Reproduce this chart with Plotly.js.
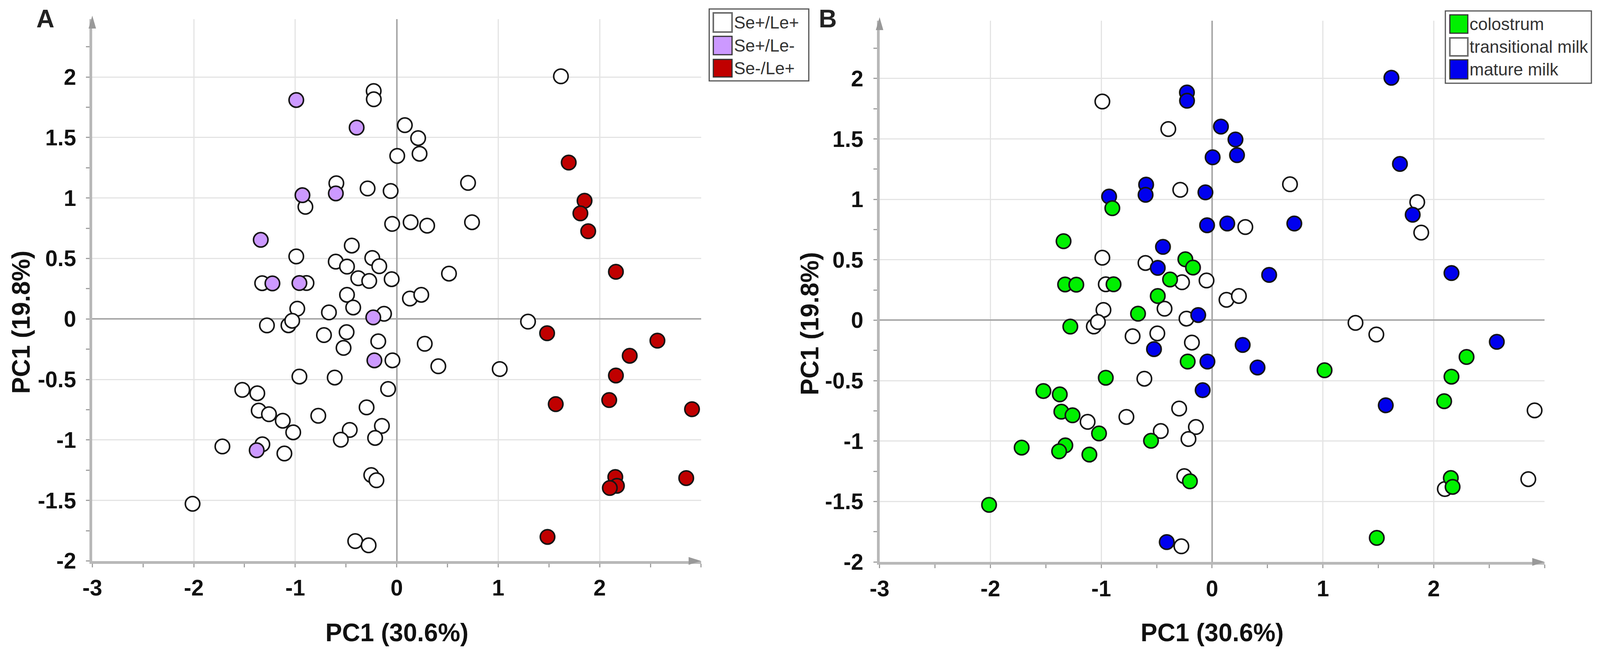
<!DOCTYPE html>
<html>
<head>
<meta charset="utf-8">
<script src="https://cdn.plot.ly/plotly-3.0.1.min.js"></script>
<style>html,body{margin:0;padding:0;background:#fff;overflow:hidden;}</style>
</head>
<body>
<div id="chart"></div>
<script>
// ---------------- DATA ----------------
// PCA scores, shared by both panels
const pc1 = [
  -0.99, -0.227, -0.226, -0.395, 0.005, -0.595, -0.60, -0.287, -0.06, -0.929,
  -0.90, -0.045, -1.34, -0.443, -0.99, -0.601, -0.49, -0.241, -0.172, -0.379,
  -0.271, -0.05, -1.326, -1.225, -0.959, -0.889, -0.49, 1.618, 0.08, 0.211,
  0.225, 1.695, 0.703, 1.851, 1.81, 1.887, 0.137, 0.30, 0.742, 2.16,
  0.515, 0.13, 0.242, -0.429, -0.98, -0.668, -0.231, -0.125, -1.279, -1.067,
  -1.03, -0.717, -0.494, -0.524, -0.182, -0.22, -0.042, -0.959, -0.611, -0.085,
  -1.522, -1.374, -0.297, -1.36, -1.259, -0.773, -1.123, -1.02, -0.146, -0.463,
  -0.551, -0.213, -1.718, -1.324, -1.38, -1.107, -0.251, -0.20, -2.012, -0.409,
  -0.277, 1.294, 1.482, 2.569, 2.296, 0.276, 0.41, 1.015, 2.16, 1.567,
  2.094, 2.91, 2.154, 2.17, 2.10, 2.853, 1.486
];
const pc2 = [
  1.81, 1.884, 1.816, 1.582, 1.348, 1.122, 1.038, 1.079, 1.058, 1.023,
  0.927, 0.786, 0.654, 0.607, 0.517, 0.474, 0.433, 0.504, 0.436, 0.337,
  0.314, 0.329, 0.296, 0.294, 0.297, 0.297, 0.20, 2.006, 1.602, 1.495,
  1.366, 1.293, 1.125, 0.977, 0.873, 0.725, 0.80, 0.771, 0.80, 0.39,
  0.375, 0.169, 0.20, 0.095, 0.085, 0.054, 0.013, 0.043, -0.053, -0.052,
  -0.015, -0.133, -0.109, -0.239, -0.185, -0.342, -0.342, -0.476, -0.484, -0.579,
  -0.586, -0.614, -0.731, -0.757, -0.787, -0.80, -0.841, -0.937, -0.884, -0.917,
  -0.998, -0.983, -1.054, -1.036, -1.085, -1.112, -1.29, -1.333, -1.528, -1.836,
  -1.871, -0.022, -0.118, -0.179, -0.304, -0.205, -0.391, -0.414, -0.467, -0.704,
  -0.67, -0.746, -1.306, -1.379, -1.397, -1.315, -1.801
];
// Panel A groups (index into categoriesA)
const categoriesA = ['Se+/Le+', 'Se+/Le-', 'Se-/Le+'];
const groupA = [
  1,0,0,1,0,0,1,0,0,1,
  0,0,1,0,0,0,0,0,0,0,
  0,0,0,1,1,0,0,0,0,0,
  0,2,0,2,2,2,0,0,0,2,
  0,0,0,0,0,0,1,0,0,0,
  0,0,0,0,0,1,0,0,0,0,
  0,0,0,0,0,0,0,0,0,0,
  0,0,0,0,1,0,0,0,0,0,
  0,0,2,2,2,0,0,0,2,2,
  2,2,2,2,2,2,2
];
// Panel B groups (index into categoriesB)
const categoriesB = ['colostrum', 'transitional milk', 'mature milk'];
const groupB = [
  1,2,2,1,2,2,2,1,2,2,
  0,2,0,2,1,1,2,0,0,0,
  1,1,0,0,1,0,0,2,2,2,
  2,2,1,1,2,1,2,1,2,2,
  2,1,1,1,1,0,1,2,0,1,
  1,1,1,2,1,0,2,0,1,2,
  0,0,1,0,0,1,1,0,1,1,
  0,1,0,0,0,0,1,0,0,2,
  1,1,1,2,0,2,2,0,0,2,
  0,1,0,0,1,1,0
];
// Tick labels and titles
const xTickVals = [-3, -2, -1, 0, 1, 2];
const xTickText = ['-3', '-2', '-1', '0', '1', '2'];
const yTickVals = [2, 1.5, 1, 0.5, 0, -0.5, -1, -1.5, -2];
const yTickText = ['2', '1.5', '1', '0.5', '0', '-0.5', '-1', '-1.5', '-2'];
const xTitle = 'PC1 (30.6%)';
const yTitle = 'PC1 (19.8%)';
const panelLabels = ['A', 'B'];

// ---------------- STYLE / LAYOUT ----------------
const colorsA = ['#ffffff', '#cc99ff', '#c00000'];
const colorsB = ['#00f000', '#ffffff', '#0000ee'];
const drawOrderA = [0, 1, 2];
const drawOrderB = [1, 2, 0];
const FONT = 'Liberation Sans, Arial, sans-serif';

// reference frame (positions below are measured in it), scaled to the real viewport
const REF_W = 4273, REF_H = 1666;
const W = Math.min(REF_W, window.innerWidth || REF_W);
const H = REF_H;
const sx = W / REF_W;
const px = x => x / REF_W;
const py = y => 1 - y / REF_H;
document.getElementById('chart').style.width = W + 'px';
document.getElementById('chart').style.height = H + 'px';

const domA = {x: [px(246.5), px(1872.5)], y: [py(1435.5), py(48.5)]};
const domB = {x: [px(2349), px(4125)], y: [py(1438), py(52.5)]};

function makeTraces(groups, cats, colors, order, xa, ya) {
  return order.map(ci => {
    const xs = [], ys = [];
    groups.forEach((g, i) => { if (g === ci) { xs.push(pc1[i]); ys.push(pc2[i]); } });
    return {
      type: 'scatter', mode: 'markers', name: cats[ci], x: xs, y: ys,
      xaxis: xa, yaxis: ya, showlegend: false, hoverinfo: 'skip', cliponaxis: false,
      marker: {symbol: 'circle', size: 37, color: colors[ci], line: {color: '#151515', width: 4}}
    };
  });
}

const traces = [].concat(
  makeTraces(groupA, categoriesA, colorsA, drawOrderA, 'x', 'y'),
  makeTraces(groupB, categoriesB, colorsB, drawOrderB, 'x2', 'y2')
);

const tickFont = {family: FONT, size: 57, color: '#111', weight: 'bold'};
const titleFont = {family: FONT, size: 64, color: '#111', weight: 'bold'};

function xAxis(dom, anchor) {
  return {
    domain: dom, anchor: anchor, range: [-3, 3], fixedrange: true,
    tickmode: 'array', tickvals: xTickVals, ticktext: xTickText,
    showgrid: true, gridcolor: '#e4e4e4', gridwidth: 3,
    zeroline: true, zerolinecolor: '#a8a8a8', zerolinewidth: 4,
    showline: true, linecolor: '#b8b8b8', linewidth: 7,
    ticks: 'outside', ticklen: 9, tickwidth: 3, tickcolor: '#a0a0a0',
    minor: {tick0: 0, dtick: 0.5, ticks: 'outside', ticklen: 9, tickwidth: 3, tickcolor: '#a0a0a0', showgrid: false},
    tickfont: tickFont, ticklabelstandoff: 4
  };
}
function yAxis(dom, anchor) {
  return {
    domain: dom, anchor: anchor, range: [-2, 2.48], fixedrange: true,
    tickmode: 'array', tickvals: yTickVals, ticktext: yTickText,
    showgrid: true, gridcolor: '#e4e4e4', gridwidth: 3,
    zeroline: true, zerolinecolor: '#a8a8a8', zerolinewidth: 4,
    showline: true, linecolor: '#b8b8b8', linewidth: 7,
    ticks: 'outside', ticklen: 9, tickwidth: 3, tickcolor: '#a0a0a0',
    minor: {tick0: 0, dtick: 0.25, ticks: 'outside', ticklen: 9, tickwidth: 3, tickcolor: '#a0a0a0', showgrid: false},
    tickfont: tickFont, ticklabelstandoff: 14
  };
}

const shapes = [];
const annotations = [];

// axis arrowheads
function arrows(xTipPx, yAxisPx, xAxisPx, yTipPx) {
  shapes.push({type: 'path', xref: 'paper', yref: 'paper', fillcolor: '#999', line: {width: 0},
    path: `M ${px(xTipPx)},${py(xAxisPx)} L ${px(xTipPx - 33)},${py(xAxisPx - 10)} L ${px(xTipPx - 33)},${py(xAxisPx + 10)} Z`});
  shapes.push({type: 'path', xref: 'paper', yref: 'paper', fillcolor: '#999', line: {width: 0},
    path: `M ${px(yAxisPx)},${py(yTipPx)} L ${px(yAxisPx - 10)},${py(yTipPx + 33)} L ${px(yAxisPx + 10)},${py(yTipPx + 33)} Z`});
}
arrows(1872, 246.5, 1435.5, 40);
arrows(4125, 2349, 1438, 44);

// axis titles
function titles(xCenterPx, xTitleYPx, yTitleXPx, yCenterPx) {
  annotations.push({xref: 'paper', yref: 'paper', x: px(xCenterPx), y: py(xTitleYPx), xanchor: 'center', yanchor: 'middle',
    showarrow: false, text: xTitle, font: titleFont});
  annotations.push({xref: 'paper', yref: 'paper', x: px(yTitleXPx), y: py(yCenterPx), xanchor: 'center', yanchor: 'middle',
    showarrow: false, text: yTitle, textangle: -90, font: titleFont});
}
titles(1059.5, 1619, 56, 825);
titles(3237, 1619, 2163, 828);

// legends (drawn as boxes + real text)
function legend(box, sqX, rows, cats, colors, textX) {
  shapes.push({type: 'rect', xref: 'paper', yref: 'paper',
    x0: px(box[0]), x1: px(box[1]), y0: py(box[3]), y1: py(box[2]),
    fillcolor: '#ffffff', line: {color: '#555', width: 3}});
  cats.forEach((c, i) => {
    const white = colors[i] === '#ffffff';
    shapes.push({type: 'rect', xref: 'paper', yref: 'paper',
      x0: px(sqX[0]), x1: px(sqX[1]), y0: py(rows[i][1]), y1: py(rows[i][0]),
      fillcolor: colors[i], line: {color: white ? '#6a6a6a' : '#333', width: white ? 4 : 3}});
    annotations.push({xref: 'paper', yref: 'paper', x: px(textX), y: py((rows[i][0] + rows[i][1]) / 2),
      xanchor: 'left', yanchor: 'middle', showarrow: false, text: c,
      font: {family: FONT, size: Math.round(46 * sx), color: '#333'}});
  });
}
legend([1894, 2160, 23, 207], [1905, 1955], [[33, 82], [93, 140], [152, 197]], categoriesA, colorsA, 1958);
legend([3860, 4250, 28, 213], [3872, 3920], [[38, 85], [97, 143], [153, 202]], categoriesB, colorsB, 3922);

// panel letters
[[121, 48], [2211, 48]].forEach((p, i) => {
  annotations.push({xref: 'paper', yref: 'paper', x: px(p[0]), y: py(p[1]), xanchor: 'center', yanchor: 'middle',
    showarrow: false, text: panelLabels[i], font: {family: FONT, size: 64, color: '#222', weight: 'bold'}});
});

const layout = {
  width: W, height: H, autosize: false,
  margin: {l: 0, r: 0, t: 0, b: 0, pad: 0},
  paper_bgcolor: '#ffffff', plot_bgcolor: '#ffffff',
  showlegend: false, hovermode: false,
  xaxis: xAxis(domA.x, 'y'), yaxis: yAxis(domA.y, 'x'),
  xaxis2: xAxis(domB.x, 'y2'), yaxis2: yAxis(domB.y, 'x2'),
  shapes: shapes, annotations: annotations
};

Plotly.newPlot('chart', traces, layout, {displayModeBar: false, staticPlot: true});
</script>
</body>
</html>
